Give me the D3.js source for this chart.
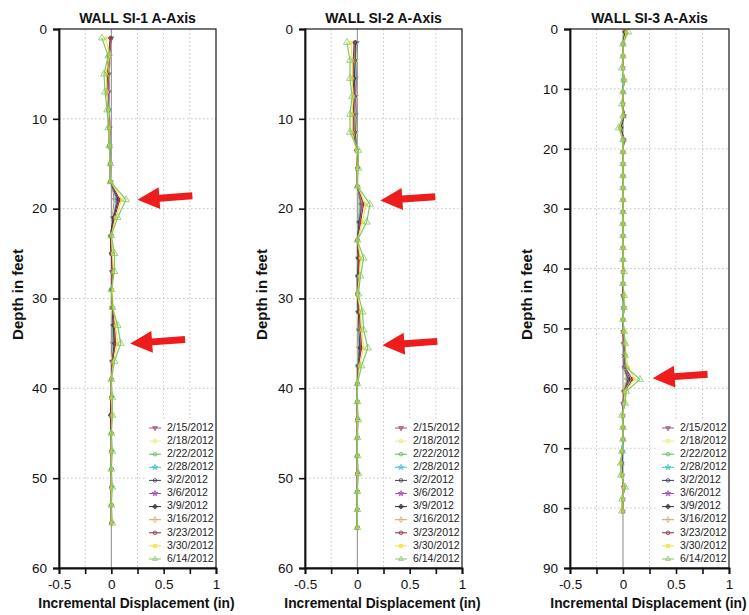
<!DOCTYPE html>
<html><head><meta charset="utf-8">
<script src="https://cdn.jsdelivr.net/npm/d3@7"></script>
<style>
body{margin:0;background:#fff;}
svg{display:block;font-family:"Liberation Sans",Arial,sans-serif;}
</style></head><body>
<svg id="chart" width="749" height="615"></svg>
<script>
// ---------- data ----------
const seriesDates = ["2/15/2012","2/18/2012","2/22/2012","2/28/2012","3/2/2012","3/6/2012","3/9/2012","3/16/2012","3/23/2012","3/30/2012","6/14/2012"];

const xTicks = [-0.5,-0.25,0,0.25,0.5,0.75,1];
const xTickLabels = ["-0.5","","0","","0.5","","1"];
const si1YTicks = [0,10,20,30,40,50,60];
const si2YTicks = [0,10,20,30,40,50,60];
const si3YTicks = [0,10,20,30,40,50,60,70,80,90];

const si1Depths = [1,3,5,7,9,11,13,15,17,19,21,23,25,27,29,31,33,35,37,39,41,43,45,47,49,51,53,55];
const si1Values = [
 [0,-.01,-.02,-.02,-.02,-.01,-.01,-.01,0, .03,.01, 0,0,0,0,0, .01,.01,0, 0,0,0,0,0,0,0,0,0],
 [0,-.01,-.02,-.03,-.02,-.02,-.01,-.01,0, .04,.01, 0,0,.01,0,0, .01,.02,0, 0,0,0,0,0,0,0,0,0],
 [0,-.02,-.02,-.03,-.02,-.02,-.01,-.01,-.01, .05,.02, 0,0,.01,0,.01, .01,.02,.01, 0,0,0,0,0,0,0,0,0],
 [0,-.02,-.03,-.03,-.02,-.02,-.02,-.01,-.01, .05,.02, 0,0,.01,0,.01, .02,.02,.01, 0,0,0,0,0,0,0,0,0],
 [0,-.02,-.03,-.03,-.03,-.02,-.02,-.01,-.01, .06,.02, -.01,0,.01,0,.01, .02,.03,.01, 0,0,-.01,0,0,0,0,0,0],
 [0,-.02,-.03,-.03,-.03,-.02,-.02,-.01,-.01, .06,.02, 0,0,.01,0,.01, .02,.03,.01, 0,0,0,0,0,0,0,0,0],
 [-.01,-.02,-.03,-.04,-.03,-.02,-.02,-.01,-.01, .07,.02, -.01,0,.01,0,.01, .02,.03,.01, 0,0,-.01,0,0,0,0,0,0],
 [-.01,-.02,-.03,-.04,-.03,-.02,-.02,-.01,-.01, .08,.03, 0,.01,.01,0,.01, .03,.04,.01, 0,0,0,0,0,0,0,0,0],
 [-.01,-.03,-.04,-.04,-.03,-.02,-.02,-.01,-.01, .08,.03, -.01,0,.01,0,.01, .03,.04,.01, 0,0,-.01,0,0,0,0,0,0],
 [-.05,-.02,-.05,-.04,-.03,-.02,-.02,-.01,-.01, .10,.04, 0,.01,.02,.01,.02, .04,.06,.02, 0,0,.01,0,0,0,0,0,0],
 [-.09,-.03,-.07,-.06,-.04,-.03,-.02,-.01,-.01, .14,.06, 0,.03,.03,0,.01, .06,.09,.03, 0,.01,.01,0,.01,0,.01,0,.01]
];

const si2Depths = [1.5,3.5,5.5,7.5,9.5,11.5,13.5,15.5,17.5,19.5,21.5,23.5,25.5,27.5,29.5,31.5,33.5,35.5,37.5,39.5,41.5,43.5,45.5,47.5,49.5,51.5,53.5,55.5];
const si2Values = [
 [0,-.01,-.01,-.01,-.01,-.01,0,0,0, .02,.01, 0,0,0,0,0, .01,.01,0, 0,0,0,0,0,0,0,0,0],
 [-.01,-.01,-.02,-.01,-.02,-.01,0,0,0, .02,.01, 0,0,0,0,0, .01,.01,0, 0,0,0,0,0,0,0,0,0],
 [-.01,-.02,-.02,-.02,-.02,-.02,0,0,0, .03,.01, 0,.01,0,0,.01, .01,.02,0, 0,0,0,0,0,0,0,0,0],
 [-.01,-.02,-.02,-.02,-.02,-.02,0,0,0, .03,.01, 0,.01,0,0,.01, .01,.02,0, 0,0,0,0,0,0,0,0,0],
 [-.02,-.02,-.03,-.02,-.03,-.02,-.01,0,0, .04,.02, 0,.01,0,0,.01, .02,.02,.01, 0,0,0,0,0,0,0,0,0],
 [-.02,-.03,-.03,-.02,-.03,-.03,-.01,0,0, .04,.02, 0,.01,.01,0,.01, .02,.03,.01, 0,0,0,0,0,0,0,0,0],
 [-.02,-.03,-.03,-.03,-.03,-.03,-.01,0,0, .05,.02, 0,.01,.01,0,.01, .02,.03,.01, 0,0,0,0,0,0,0,0,0],
 [-.03,-.03,-.04,-.03,-.03,-.03,-.01,0,0, .05,.03, 0,.02,.01,0,.02, .02,.04,.01, 0,0,0,0,0,0,0,0,0],
 [-.03,-.04,-.04,-.03,-.04,-.04,-.01,0,0, .06,.03, 0,.02,.01,0,.02, .03,.04,.01, 0,0,0,0,0,0,0,0,0],
 [-.06,-.05,-.05,-.04,-.05,-.05,-.01,0,0, .08,.05, 0,.03,.02,0,.03, .04,.06,.02, 0,0,0,0,0,0,0,0,0],
 [-.10,-.07,-.07,-.05,-.07,-.07,.01,.01,0, .12,.09, 0,.06,.03,.01,.05, .06,.10,.04, 0,0,.01,0,0,.01,0,0,0]
];

const si3Depths = [0.5,2.5,4.5,6.5,8.5,10.5,12.5,14.5,16.5,18.5,20.5,22.5,24.5,26.5,28.5,30.5,32.5,34.5,36.5,38.5,40.5,42.5,44.5,46.5,48.5,50.5,52.5,54.5,56.5,58.5,60.5,62.5,64.5,66.5,68.5,70.5,72.5,74.5,76.5,78.5,80.5];
const si3Values = [
 [.01,0,0,0,0,0,0,0,-.01,0, 0,0,0,0,0,0,0,0,0,0,0,0,0,0,0,0,0,.01, .01,.03,0,0, 0,0,0,0,-.01,0,0,0,0],
 [.01,0,0,0,0,0,0,0,-.01,0, 0,0,0,0,0,0,0,0,0,0,0,0,0,0,0,0,.01,.01, .01,.03,0,0, 0,0,0,0,-.01,0,.01,0,0],
 [.01,0,0,0,0,0,0,.01,-.01,0, 0,0,0,0,0,0,0,0,0,0,0,0,0,0,0,0,.01,.01, .01,.04,.01,0, 0,0,0,0,-.01,-.01,.01,0,0],
 [.02,0,0,0,0,0,0,.01,-.02,0, 0,0,0,0,0,0,0,0,0,0,0,0,0,0,0,0,.01,.01, .01,.05,.01,0, 0,0,0,0,-.01,-.01,.01,0,0],
 [.02,0,0,0,.01,0,0,.01,-.02,.01, 0,0,0,0,0,0,0,0,0,0,0,0,0,.01,0,0,.01,.01, .01,.05,.01,0, 0,0,0,-.01,-.01,-.01,.01,0,0],
 [.02,0,0,0,.01,0,0,.01,-.02,.01, 0,0,0,0,0,0,0,0,0,0,0,0,0,.01,0,0,.01,.01, .01,.06,.01,0, 0,0,0,-.01,-.01,-.01,.01,0,0],
 [.02,0,0,0,.01,0,0,.01,-.02,.01, 0,0,0,0,0,0,0,0,0,0,0,0,0,.01,0,0,.01,.02, .02,.07,.01,.01, 0,0,0,-.01,-.01,-.01,.01,0,0],
 [.03,0,0,0,.01,0,0,.01,-.03,.01, 0,0,0,0,0,0,0,0,0,0,0,0,0,.01,0,0,.01,.02, .02,.08,.01,.01, 0,0,0,-.01,-.02,-.01,.01,0,0],
 [.03,0,0,0,.01,0,0,.01,-.03,.01, 0,0,0,0,0,0,0,0,0,0,0,0,0,.01,0,.01,.01,.02, .02,.09,.02,.01, 0,0,0,-.01,-.02,-.01,.01,0,0],
 [.03,0,0,0,.01,0,0,0,-.03,0, 0,0,0,0,0,0,0,0,0,0,0,0,.01,.01,0,.01,.02,.03, .05,.11,.02,.01, 0,0,0,-.01,-.02,-.01,.01,0,0],
 [.05,0,0,-.01,.01,0,-.01,0,-.04,0, 0,0,0,0,0,0,0,0,0,0,.01,0,.01,.01,0,.01,.02,.02, .03,.16,.03,.02, -.01,0,0,-.01,-.02,-.02,.02,-.01,-.01]
];

// annotation arrows: [panel index, depth, displacement at tip]
const arrowTips = [[0,19.0,0.25],[0,35.0,0.18],[1,19.1,0.22],[1,35.2,0.24],[2,58.3,0.28]];

// ---------- styles ----------
const seriesColors = ["#a8566e","#ecec8a","#5cb85c","#4cc6d6","#3e3e5a","#b04cc0","#333333","#d4a464","#8a2a3a","#f0e040","#80c864"];
const seriesSymbols = ["triDown","square","circle","star","circle","star","cross","diamond","circle","square","triangle"];
const seriesFilled = [true,true,false,true,false,true,true,false,false,true,false];

const panels = [
  {title:"WALL SI-1 A-Axis", depths:si1Depths, values:si1Values, yTicks:si1YTicks, left:59, right:216, ylabX:19},
  {title:"WALL SI-2 A-Axis", depths:si2Depths, values:si2Values, yTicks:si2YTicks, left:305, right:462, ylabX:263},
  {title:"WALL SI-3 A-Axis", depths:si3Depths, values:si3Values, yTicks:si3YTicks, left:570, right:729, ylabX:528}
];
const TOP = 29, BOTTOM = 568;

const svg = d3.select("#chart");

function symbolPath(kind, size){
  const map = {triDown:d3.symbolTriangle, triangle:d3.symbolTriangle, square:d3.symbolSquare, circle:d3.symbolCircle,
               star:d3.symbolStar, cross:d3.symbolCross, diamond:d3.symbolDiamond};
  return d3.symbol().type(map[kind]).size(size)();
}
function drawMarker(sel, i, cx, cy, size){
  const kind = seriesSymbols[i];
  sel.append("path")
    .attr("d", symbolPath(kind, size))
    .attr("transform", `translate(${cx},${cy})` + (kind==="triDown" ? " rotate(180)" : ""))
    .attr("fill", seriesFilled[i] ? seriesColors[i] : "none")
    .attr("fill-opacity", 0.6)
    .attr("stroke", seriesColors[i])
    .attr("stroke-width", 0.8);
}

panels.forEach((p, pi) => {
  const yMax = p.yTicks[p.yTicks.length-1];
  const x = d3.scaleLinear().domain([-0.5,1]).range([p.left,p.right]);
  const y = d3.scaleLinear().domain([0,yMax]).range([TOP,BOTTOM]);
  const g = svg.append("g");

  // grid
  g.selectAll(".vg").data(xTicks.filter(t => t!==0 && t!==-0.5 && t!==1)).join("line")
    .attr("x1", d=>x(d)).attr("x2", d=>x(d)).attr("y1", TOP).attr("y2", BOTTOM)
    .attr("stroke","#c4c4c4").attr("stroke-width",1).attr("stroke-dasharray","1.5,2.5");
  g.selectAll(".hg").data(p.yTicks.slice(1,-1)).join("line")
    .attr("x1", p.left).attr("x2", p.right).attr("y1", d=>y(d)).attr("y2", d=>y(d))
    .attr("stroke","#c4c4c4").attr("stroke-width",1).attr("stroke-dasharray","1.5,2.5");
  // zero line
  g.append("line").attr("x1",x(0)).attr("x2",x(0)).attr("y1",TOP).attr("y2",BOTTOM)
    .attr("stroke","#8a8a8a").attr("stroke-width",1);

  // series
  const line = d3.line().x(d=>x(d[0])).y(d=>y(d[1]));
  p.values.forEach((vals, i) => {
    const pts = vals.map((v,j)=>[v, p.depths[j]]);
    g.append("path").datum(pts).attr("d", line)
      .attr("fill","none").attr("stroke", seriesColors[i]).attr("stroke-width", i===10 ? 1.2 : 1);
    const mg = g.append("g");
    pts.forEach(d => drawMarker(mg, i, x(d[0]), y(d[1]), i===10 ? 20 : 6));
  });

  // frame
  g.append("rect").attr("x",p.left).attr("y",TOP).attr("width",p.right-p.left).attr("height",BOTTOM-TOP)
    .attr("fill","none").attr("stroke","#1a1a1a").attr("stroke-width",1.2);

  // axes
  const yAxis = d3.axisLeft(y).tickValues(p.yTicks).tickSize(6).tickPadding(6).tickFormat(d3.format("d"));
  const ya = g.append("g").attr("transform",`translate(${p.left},0)`).call(yAxis);
  const xAxis = d3.axisBottom(x).tickValues(xTicks).tickSize(6).tickPadding(5).tickFormat((d,i)=>xTickLabels[i]);
  const xa = g.append("g").attr("transform",`translate(0,${BOTTOM})`).call(xAxis);
  [ya, xa].forEach(a => {
    a.select(".domain").attr("stroke","#111").attr("stroke-width",1.8);
    a.selectAll(".tick line").attr("stroke","#111").attr("stroke-width",1.6);
    a.selectAll(".tick text").attr("fill","#111").style("font-size","13.5px");
  });

  // titles
  g.append("text").attr("x",(p.left+p.right)/2).attr("y",23).attr("text-anchor","middle")
    .style("font-size","14px").style("font-weight","bold").attr("fill","#111").text(p.title);
  g.append("text").attr("transform",`translate(${p.ylabX},${(TOP+BOTTOM)/2 - 4}) rotate(-90)`)
    .attr("text-anchor","middle").attr("dominant-baseline","middle")
    .style("font-size","15px").style("font-weight","bold").attr("fill","#111").text("Depth in feet");
  g.append("text").attr("x",(p.left+p.right)/2 - 1).attr("y",608).attr("text-anchor","middle")
    .style("font-size","13.8px").style("font-weight","bold").attr("fill","#111").text("Incremental Displacement (in)");

  // legend
  const lg = g.append("g");
  lg.append("rect").attr("x",p.right-71).attr("y",420).attr("width",69).attr("height",146).attr("fill","#fff");
  seriesDates.forEach((dt, i) => {
    const ly = 428 + i*13.1;
    lg.append("line").attr("x1",p.right-67).attr("x2",p.right-55).attr("y1",ly).attr("y2",ly)
      .attr("stroke",seriesColors[i]).attr("stroke-width",1);
    drawMarker(lg, i, p.right-61, ly, 10);
    lg.append("text").attr("x",p.right-49).attr("y",ly).attr("dominant-baseline","middle")
      .style("font-size","10.5px").attr("fill","#222").text(dt);
  });

  // arrows
  arrowTips.filter(a => a[0]===pi).forEach(a => {
    g.append("path")
      .attr("d","M0,0 L22,-11 L22,-3.5 L55,-3.5 L55,3.5 L22,3.5 L22,11 Z")
      .attr("transform",`translate(${x(a[2])},${y(a[1])}) rotate(-4)`)
      .attr("fill","#ee1c1c");
  });
});
</script>
</body></html>
